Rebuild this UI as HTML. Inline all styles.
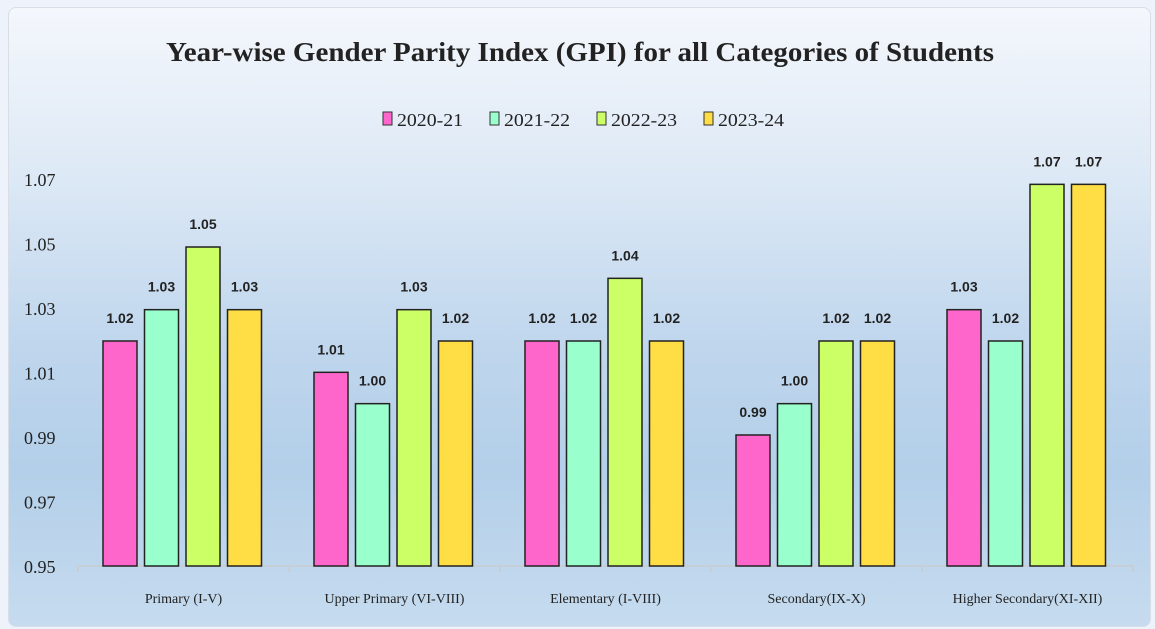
<!DOCTYPE html>
<html><head><meta charset="utf-8">
<style>
body{margin:0;width:1155px;height:629px;background:#eef3fb;overflow:hidden;font-family:"Liberation Serif",serif;}
#panel{position:absolute;left:8px;top:7px;width:1141px;height:618px;border-radius:8px;border:1px solid #d8dde6;
background:linear-gradient(#f4f7fc 0%,#dfeaf6 25%,#bfd6ed 55%,#b3cfe9 75%,#c6dbef 100%);}
svg{position:absolute;left:0;top:0}
</style></head><body>
<div id="panel"></div>
<svg id="c" width="1155" height="629">
<text x="580" y="61" text-anchor="middle" font-size="27" font-weight="bold" fill="#222" font-family="Liberation Serif" textLength="828" lengthAdjust="spacingAndGlyphs">Year-wise Gender Parity Index (GPI) for all  Categories of Students</text>
</svg>
<script>
const categories=["Primary (I-V)","Upper Primary (VI-VIII)","Elementary (I-VIII)","Secondary(IX-X)","Higher Secondary(XI-XII)"];
const seriesNames=["2020-21","2021-22","2022-23","2023-24"];
const s2020=[1.02,1.01,1.02,0.99,1.03];
const s2021=[1.03,1.00,1.02,1.00,1.02];
const s2022=[1.05,1.03,1.04,1.02,1.07];
const s2023=[1.03,1.02,1.02,1.02,1.07];
const yTicks=[0.95,0.97,0.99,1.01,1.03,1.05,1.07];
const colors=["#ff66cc","#99ffcc","#ccff66","#ffdd44"];
const NS="http://www.w3.org/2000/svg",svg=document.getElementById('c');
function el(t,a,txt){const e=document.createElementNS(NS,t);for(const k in a)e.setAttribute(k,a[k]);if(txt!=null)e.textContent=txt;svg.appendChild(e);return e;}
const base=566;
function y(v){return 341-(v-1.02)*3133;}
function yLab(v){return 567-(v-0.95)*3225;}
const x0=78,gw=211;
function xBar(g,s){return x0+gw*g+25+s*41.5;}
yTicks.forEach(v=>{const t=el('text',{x:24,y:yLab(v)+6,'font-size':18,fill:'#222','font-family':'Liberation Serif'},v.toFixed(2));

});
const ax=el('path',{d:`M${x0} 572V566H${x0+gw*5}V572`,stroke:'#c8ccd2','stroke-width':1.5,fill:'none'});


for(let i=1;i<5;i++){const tk=el('line',{x1:x0+gw*i,x2:x0+gw*i,y1:566,y2:572,stroke:'#c8ccd2','stroke-width':1.5});

}
const all=[s2020,s2021,s2022,s2023];
categories.forEach((c,g)=>{
 const t=el('text',{x:x0+gw*g+gw/2,y:603,'text-anchor':'middle','font-size':14,fill:'#222','font-family':'Liberation Serif'},c);
 
 
 all.forEach((s,si)=>{
  const v=s[g],bx=xBar(g,si),top=y(v);
  const r=el('rect',{x:bx,y:top,width:34,height:base-top,fill:colors[si],stroke:'#222','stroke-width':1.5});
  
  
  const l=el('text',{x:bx+17,y:top-18,'text-anchor':'middle','font-size':14,'font-weight':'bold',fill:'#222','font-family':'Liberation Sans'},v.toFixed(2));
  
  
 });
});
const lx=[383,490,597,704];
seriesNames.forEach((n,i)=>{
 const r=el('rect',{x:lx[i],y:112,width:9,height:13,fill:colors[i],stroke:'#333','stroke-width':1});
 
 
 const t=el('text',{x:lx[i]+14,y:126,'font-size':18,fill:'#222','font-family':'Liberation Serif',textLength:66,lengthAdjust:'spacingAndGlyphs'},n);
 
 
});
</script>
</body></html>
